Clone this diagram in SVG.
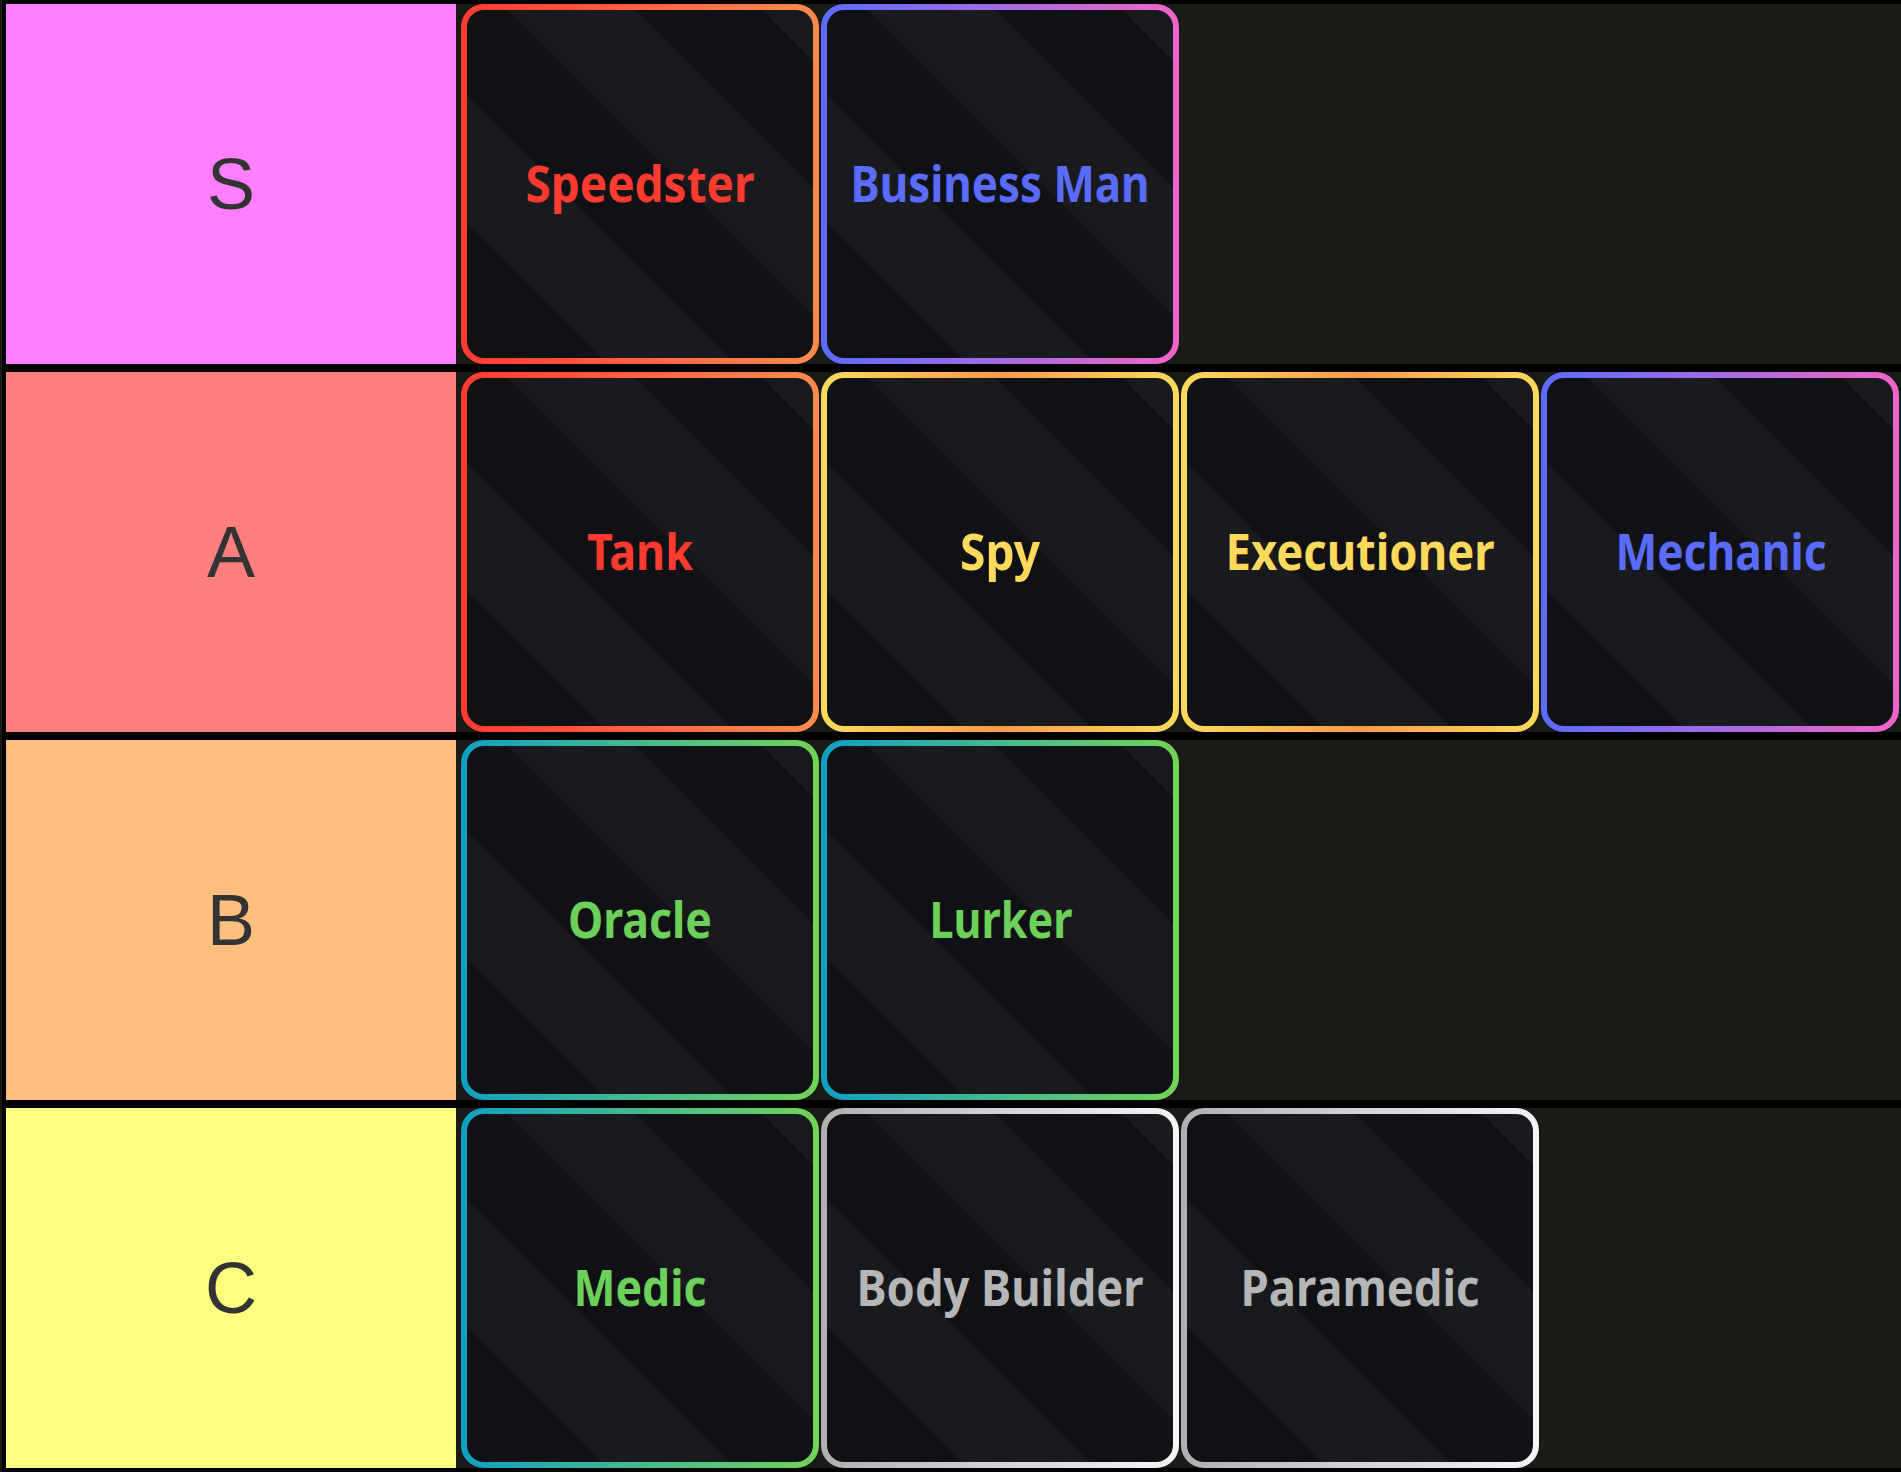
<svg xmlns="http://www.w3.org/2000/svg" width="1901" height="1472" viewBox="0 0 1901 1472">
<style>
.row-bg{fill:#1a1a17}
.lbl{font-family:"Liberation Sans",Arial,sans-serif;font-size:72px;fill:#333333;text-anchor:middle}
.card-bg{fill:url(#stripes);stroke-width:6}
.name{font-family:"Noto Sans","DejaVu Sans",sans-serif;font-weight:700;font-size:50px;text-anchor:middle}
.red{fill:#ff3b30}.blue{fill:#5a6cff}.yellow{fill:#ffd95b}.green{fill:#6cd05a}.gray{fill:#b6b6b6}
</style>
<defs>
<pattern id="stripes" patternUnits="userSpaceOnUse" width="179.6" height="100" patternTransform="rotate(-45)">
<rect width="179.6" height="100" fill="#101115"/>
<rect x="30" width="89.8" height="100" fill="#191a1e"/>
</pattern>
<linearGradient id="gRed" x1="0" y1="0" x2="1" y2="0"><stop offset="0" stop-color="#ff3b30"/><stop offset="1" stop-color="#ff8a4c"/></linearGradient>
<linearGradient id="gBlue" x1="0" y1="0" x2="1" y2="0"><stop offset="0" stop-color="#5a6cff"/><stop offset="1" stop-color="#f066c8"/></linearGradient>
<linearGradient id="gYellow" x1="0" y1="0" x2="1" y2="0"><stop offset="0" stop-color="#ffd95b"/><stop offset="0.5" stop-color="#ff9a48"/><stop offset="1" stop-color="#ffd95b"/></linearGradient>
<linearGradient id="gGreen" x1="0" y1="0" x2="1" y2="0"><stop offset="0" stop-color="#12a0c4"/><stop offset="1" stop-color="#72d458"/></linearGradient>
<linearGradient id="gSilver" x1="0" y1="0" x2="1" y2="0"><stop offset="0" stop-color="#b0b0b0"/><stop offset="1" stop-color="#f5f5f5"/></linearGradient>
</defs>
<rect width="1901" height="1472" fill="#000000"/>
<rect width="2" height="1472" fill="#1a1a17"/>
<g id="tier-S">
<rect class="row-bg" x="456" y="4" width="1445" height="360"/>
<rect x="6" y="4" width="450" height="360" fill="#ff7fff"/>
<text class="lbl" x="231" y="209">S</text>
</g>
<g id="tier-A">
<rect class="row-bg" x="456" y="372" width="1445" height="360"/>
<rect x="6" y="372" width="450" height="360" fill="#ff7f7f"/>
<text class="lbl" x="231" y="577">A</text>
</g>
<g id="tier-B">
<rect class="row-bg" x="456" y="740" width="1445" height="360"/>
<rect x="6" y="740" width="450" height="360" fill="#ffbf7f"/>
<text class="lbl" x="231" y="945">B</text>
</g>
<g id="tier-C">
<rect class="row-bg" x="456" y="1108" width="1445" height="360"/>
<rect x="6" y="1108" width="450" height="360" fill="#ffff7f"/>
<text class="lbl" x="231" y="1313">C</text>
</g>
<g id="speedster" transform="translate(460,4)">
<rect class="card-bg" x="4" y="3" width="352" height="354" rx="20" stroke="url(#gRed)"/>
<text class="name red" x="180" y="198" textLength="229" lengthAdjust="spacingAndGlyphs">Speedster</text>
</g>
<g id="business-man" transform="translate(820,4)">
<rect class="card-bg" x="4" y="3" width="352" height="354" rx="20" stroke="url(#gBlue)"/>
<text class="name blue" x="180" y="198" textLength="299" lengthAdjust="spacingAndGlyphs">Business Man</text>
</g>
<g id="tank" transform="translate(460,372)">
<rect class="card-bg" x="4" y="3" width="352" height="354" rx="20" stroke="url(#gRed)"/>
<text class="name red" x="180" y="198" textLength="106" lengthAdjust="spacingAndGlyphs">Tank</text>
</g>
<g id="spy" transform="translate(820,372)">
<rect class="card-bg" x="4" y="3" width="352" height="354" rx="20" stroke="url(#gYellow)"/>
<text class="name yellow" x="180" y="198" textLength="80" lengthAdjust="spacingAndGlyphs">Spy</text>
</g>
<g id="executioner" transform="translate(1180,372)">
<rect class="card-bg" x="4" y="3" width="352" height="354" rx="20" stroke="url(#gYellow)"/>
<text class="name yellow" x="180" y="198" textLength="269" lengthAdjust="spacingAndGlyphs">Executioner</text>
</g>
<g id="mechanic" transform="translate(1540,372)">
<rect class="card-bg" x="4" y="3" width="352" height="354" rx="20" stroke="url(#gBlue)"/>
<text class="name blue" x="181" y="198" textLength="211" lengthAdjust="spacingAndGlyphs">Mechanic</text>
</g>
<g id="oracle" transform="translate(460,740)">
<rect class="card-bg" x="4" y="3" width="352" height="354" rx="20" stroke="url(#gGreen)"/>
<text class="name green" x="180" y="198" textLength="144" lengthAdjust="spacingAndGlyphs">Oracle</text>
</g>
<g id="lurker" transform="translate(820,740)">
<rect class="card-bg" x="4" y="3" width="352" height="354" rx="20" stroke="url(#gGreen)"/>
<text class="name green" x="181" y="198" textLength="143" lengthAdjust="spacingAndGlyphs">Lurker</text>
</g>
<g id="medic" transform="translate(460,1108)">
<rect class="card-bg" x="4" y="3" width="352" height="354" rx="20" stroke="url(#gGreen)"/>
<text class="name green" x="180" y="198" textLength="133" lengthAdjust="spacingAndGlyphs">Medic</text>
</g>
<g id="body-builder" transform="translate(820,1108)">
<rect class="card-bg" x="4" y="3" width="352" height="354" rx="20" stroke="url(#gSilver)"/>
<text class="name gray" x="180" y="198" textLength="287" lengthAdjust="spacingAndGlyphs">Body Builder</text>
</g>
<g id="paramedic" transform="translate(1180,1108)">
<rect class="card-bg" x="4" y="3" width="352" height="354" rx="20" stroke="url(#gSilver)"/>
<text class="name gray" x="180" y="198" textLength="239" lengthAdjust="spacingAndGlyphs">Paramedic</text>
</g>
</svg>
